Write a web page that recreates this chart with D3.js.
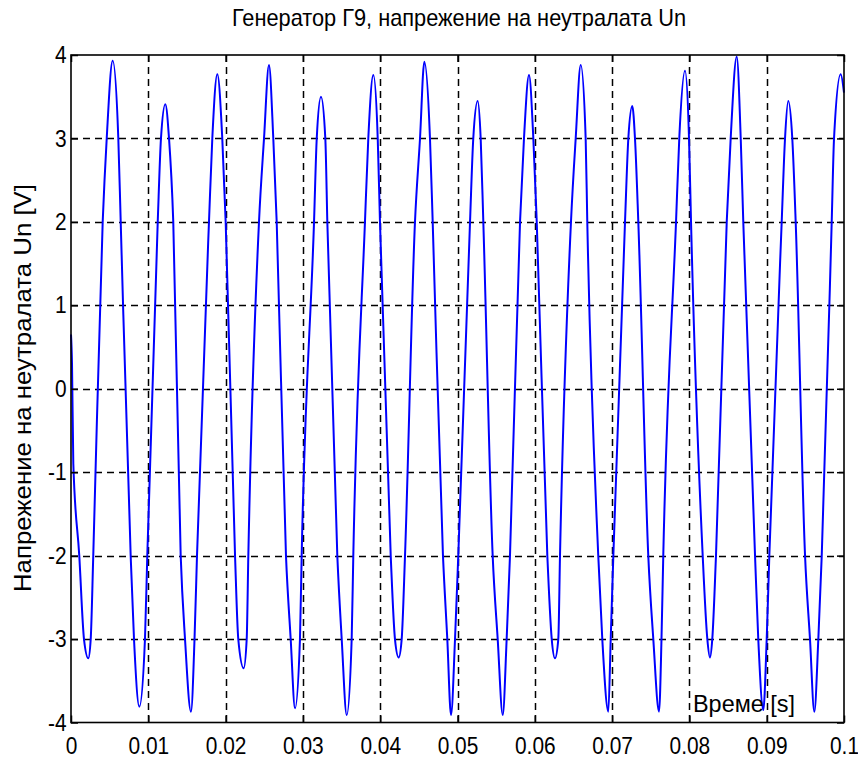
<!DOCTYPE html>
<html>
<head>
<meta charset="utf-8">
<script src="https://cdn.jsdelivr.net/npm/d3@7"></script>
<style>
  html, body { margin: 0; padding: 0; background: #ffffff; }
  svg { display: block; }
  text { font-family: "Liberation Sans", Arial, sans-serif; fill: #000; }
</style>
</head>
<body>
<svg id="chart" width="858" height="758"></svg>
<script>
// Neutral-point voltage of generator G9 over 0..0.1 s
const timeS = [
  0, 0.00013, 0.0003, 0.00107, 0.00168, 0.00224, 0.00255, 0.00288, 0.0041, 0.00462,
  0.00539, 0.00612, 0.00643, 0.00772, 0.00815, 0.00884, 0.00957, 0.00987, 0.01122, 0.01164,
  0.0122, 0.01268, 0.01323, 0.01419, 0.01475, 0.01552, 0.01598, 0.0163, 0.01785, 0.01828,
  0.01893, 0.01957, 0.02001, 0.02122, 0.02164, 0.02234, 0.02273, 0.02294, 0.02432, 0.02497,
  0.02561, 0.02617, 0.02661, 0.02781, 0.02842, 0.02898, 0.02962, 0.02984, 0.03144, 0.03179,
  0.03234, 0.0329, 0.03316, 0.03445, 0.03502, 0.03567, 0.03631, 0.03652, 0.03803, 0.03846,
  0.03911, 0.03968, 0.03997, 0.04136, 0.04191, 0.04239, 0.04278, 0.04321, 0.0445, 0.04515,
  0.04571, 0.04644, 0.04679, 0.04812, 0.04868, 0.04916, 0.04968, 0.0501, 0.05162, 0.05204,
  0.05261, 0.053, 0.05334, 0.05455, 0.0552, 0.05585, 0.05636, 0.05679, 0.05809, 0.0586,
  0.05925, 0.05981, 0.06025, 0.06162, 0.06219, 0.06261, 0.06304, 0.06326, 0.06468, 0.06529,
  0.06594, 0.06658, 0.06679, 0.06821, 0.06873, 0.06951, 0.06982, 0.07016, 0.07167, 0.0721,
  0.07261, 0.07296, 0.07339, 0.07468, 0.07533, 0.07607, 0.07639, 0.07662, 0.07827, 0.07869,
  0.07943, 0.07995, 0.08021, 0.08172, 0.08232, 0.08266, 0.08296, 0.08344, 0.08483, 0.08534,
  0.08612, 0.08664, 0.08697, 0.08849, 0.08891, 0.08956, 0.09, 0.09034, 0.09194, 0.09237,
  0.09279, 0.09331, 0.09375, 0.09496, 0.0956, 0.09616, 0.09668, 0.09712, 0.09841, 0.09871,
  0.09957, 0.1
];
const voltageUn = [
  0.65, 0.3, -0.9, -2, -3, -3.23, -3, -2, 2, 3,
  3.93, 3, 2, -2, -3, -3.81, -3, -2, 2, 3,
  3.41, 3, 2, -2, -3, -3.87, -3, -2, 2, 3,
  3.77, 3, 2, -2, -3, -3.35, -3, -2, 2, 3,
  3.88, 3, 2, -2, -3, -3.83, -3, -2, 2, 3,
  3.5, 3, 2, -2, -3, -3.91, -3, -2, 2, 3,
  3.76, 3, 2, -2, -3, -3.22, -3, -2, 2, 3,
  3.92, 3, 2, -2, -3, -3.91, -3, -2, 2, 3,
  3.45, 3, 2, -2, -3, -3.91, -3, -2, 2, 3,
  3.76, 3, 2, -2, -3, -3.23, -3, -2, 2, 3,
  3.88, 3, 2, -2, -3, -3.87, -3, -2, 2, 3,
  3.39, 3, 2, -2, -3, -3.87, -3, -2, 2, 3,
  3.81, 3, 2, -2, -3, -3.22, -3, -2, 2, 3,
  3.98, 3, 2, -2, -3, -3.85, -3, -2, 2, 3,
  3.45, 3, 2, -2, -3, -3.87, -3, -2, 2, 3,
  3.77, 3.55
];

const xTicks = [0, 0.01, 0.02, 0.03, 0.04, 0.05, 0.06, 0.07, 0.08, 0.09, 0.1];
const xTickLabels = ["0", "0.01", "0.02", "0.03", "0.04", "0.05", "0.06", "0.07", "0.08", "0.09", "0.1"];
const yTicks = [-4, -3, -2, -1, 0, 1, 2, 3, 4];
const yTickLabels = ["-4", "-3", "-2", "-1", "0", "1", "2", "3", "4"];

const titleText = "Генератор Г9, напрежение на неутралата Un";
const xLabelText = "Време [s]";
const yLabelText = "Напрежение на неутралата Un [V]";

const svg = d3.select("#chart");
const plot = { left: 71, right: 844, top: 55, bottom: 722.5 };

const x = d3.scaleLinear().domain([0, 0.1]).range([plot.left, plot.right]);
const y = d3.scaleLinear().domain([-4, 4]).range([plot.bottom, plot.top]);

// dashed grid, snapped to the pixel grid so every line has the same weight
const snap = v => Math.round(v) + 0.5;
const grid = svg.append("g")
  .attr("stroke", "#000").attr("stroke-width", 1.5).attr("stroke-dasharray", "7,5");
grid.selectAll("line.gx").data(xTicks.slice(1, -1)).join("line")
  .attr("x1", d => snap(x(d))).attr("x2", d => snap(x(d)))
  .attr("y1", plot.top).attr("y2", plot.bottom);
grid.selectAll("line.gy").data(yTicks.slice(1, -1)).join("line")
  .attr("x1", plot.left).attr("x2", plot.right)
  .attr("y1", d => snap(y(d))).attr("y2", d => snap(y(d)));

// signal
const pts = timeS.map((t, i) => [t, voltageUn[i]]);
const line = d3.line().x(d => x(d[0])).y(d => y(d[1])).curve(d3.curveMonotoneX);
svg.append("path").datum(pts)
  .attr("d", line)
  .attr("fill", "none")
  .attr("stroke", "#0000ff")
  .attr("stroke-width", 2)
  .attr("stroke-linejoin", "round");

// axes with inward ticks
const fmtX = (d, i) => xTickLabels[i];
const fmtY = (d, i) => yTickLabels[i];
const tickFont = 24, tickScale = 0.87;

const gx = svg.append("g").attr("transform", `translate(0,${plot.bottom})`)
  .call(d3.axisBottom(x).tickValues(xTicks).tickFormat(fmtX).tickSize(-7).tickPadding(14));
const gy = svg.append("g").attr("transform", `translate(${plot.left},0)`)
  .call(d3.axisLeft(y).tickValues(yTicks).tickFormat(fmtY).tickSize(-7).tickPadding(5));
const gt = svg.append("g").attr("transform", `translate(0,${plot.top})`)
  .call(d3.axisTop(x).tickValues(xTicks).tickFormat("").tickSize(-7));
const gr = svg.append("g").attr("transform", `translate(${plot.right},0)`)
  .call(d3.axisRight(y).tickValues(yTicks).tickFormat("").tickSize(-7));

[gx, gy, gt, gr].forEach(g => {
  g.select(".domain").remove();
  g.selectAll(".tick line").attr("stroke", "#000").attr("stroke-width", 1.5);
  g.selectAll(".tick text")
    .attr("font-family", "'Liberation Sans', Arial, sans-serif")
    .attr("font-size", tickFont)
    .attr("fill", "#000")
    .attr("transform", `scale(${tickScale},1)`);
});

// frame
svg.append("rect")
  .attr("x", plot.left).attr("y", plot.top)
  .attr("width", plot.right - plot.left).attr("height", plot.bottom - plot.top)
  .attr("fill", "none").attr("stroke", "#000").attr("stroke-width", 1.6);

// title
svg.append("text")
  .attr("x", 232).attr("y", 26)
  .attr("font-size", 24)
  .attr("textLength", 454).attr("lengthAdjust", "spacingAndGlyphs")
  .text(titleText);

// y label
svg.append("text")
  .attr("transform", "translate(31,592) rotate(-90)")
  .attr("font-size", 24)
  .attr("textLength", 408).attr("lengthAdjust", "spacingAndGlyphs")
  .text(yLabelText);

// x label placed inside the axes, bottom right
svg.append("text")
  .attr("x", 693).attr("y", 712)
  .attr("font-size", 24)
  .attr("textLength", 102).attr("lengthAdjust", "spacingAndGlyphs")
  .text(xLabelText);
</script>
</body>
</html>
